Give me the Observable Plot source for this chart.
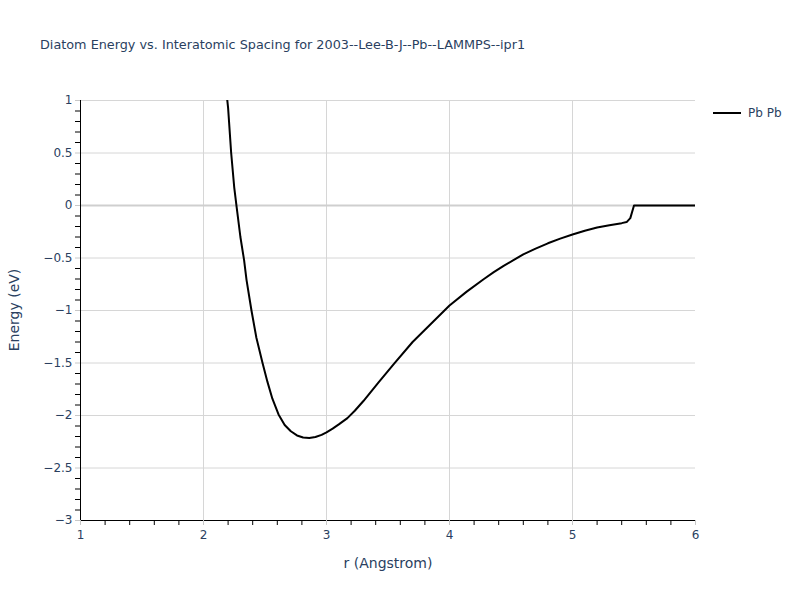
<!DOCTYPE html>
<html>
<head>
<meta charset="utf-8">
<script src="https://cdn.jsdelivr.net/npm/d3@7"></script>
<script src="https://cdn.jsdelivr.net/npm/@observablehq/plot@0.6"></script>
<style>
  html, body { margin: 0; padding: 0; background: #fff; }
  #wrap { position: relative; width: 800px; height: 600px; font-family: "DejaVu Sans", Verdana, sans-serif; }
  #title { position: absolute; left: 40px; top: 37px; font-size: 12.8px; color: #2a3f5f; white-space: nowrap; }
  #legend { position: absolute; left: 713px; top: 106px; font-size: 12px; color: #2a3f5f; display: flex; align-items: center; }
  #legend .sw { width: 28px; height: 2px; background: #000; margin-right: 7px; }
  #ylab { position: absolute; left: 14px; top: 310px; transform: translate(-50%, -50%) rotate(-90deg); font-size: 14px; color: #2a3f5f; white-space: nowrap; }
  #xlab { position: absolute; left: 388px; top: 563px; transform: translate(-50%, -50%); font-size: 14px; color: #2a3f5f; white-space: nowrap; }
</style>
</head>
<body>
<div id="wrap">
  <div id="chart"></div>
  <div id="title">Diatom Energy vs. Interatomic Spacing for 2003--Lee-B-J--Pb--LAMMPS--ipr1</div>
  <div id="legend"><div class="sw"></div><span>Pb Pb</span></div>
  <div id="ylab">Energy (eV)</div>
  <div id="xlab">r (Angstrom)</div>
</div>
<script>
const seriesName = "Pb Pb";
const r = [2.18, 2.20, 2.225, 2.25, 2.27, 2.30, 2.33, 2.35, 2.39, 2.43, 2.48, 2.52, 2.56, 2.61, 2.66, 2.71, 2.76, 2.81, 2.86, 2.91, 2.96, 3.00, 3.05, 3.10, 3.17, 3.23, 3.30, 3.42, 3.55, 3.70, 3.85, 4.00, 4.14, 4.28, 4.36, 4.44, 4.52, 4.60, 4.70, 4.80, 4.90, 5.00, 5.10, 5.20, 5.30, 5.40, 5.44, 5.47, 5.50, 6.00];
const energy = [1.15, 0.93, 0.50, 0.17, -0.02, -0.30, -0.52, -0.71, -1.00, -1.26, -1.50, -1.68, -1.84, -1.99, -2.09, -2.15, -2.19, -2.21, -2.215, -2.205, -2.185, -2.16, -2.125, -2.085, -2.025, -1.955, -1.862, -1.69, -1.505, -1.30, -1.127, -0.952, -0.82, -0.70, -0.635, -0.575, -0.52, -0.465, -0.41, -0.36, -0.315, -0.276, -0.24, -0.21, -0.188, -0.168, -0.158, -0.12, 0, 0];
const xMajor = [1, 2, 3, 4, 5, 6];
const yMajor = [-3, -2.5, -2, -1.5, -1, -0.5, 0, 0.5, 1];

const data = r.map((v, i) => ({r: v, e: energy[i]}));
const xMinor = d3.range(1, 6.001, 0.2).map(v => +v.toFixed(2)).filter(v => !xMajor.includes(v));
const yMinor = d3.range(-3, 1.001, 0.1).map(v => +v.toFixed(2)).filter(v => !yMajor.some(m => Math.abs(m - v) < 1e-9));
const fmt = d3.format("~g");

const chart = Plot.plot({
  width: 800,
  height: 600,
  marginLeft: 80,
  marginRight: 105,
  marginTop: 100,
  marginBottom: 80,
  style: {fontFamily: '"DejaVu Sans", Verdana, sans-serif', fontSize: "12px", color: "#2a3f5f", background: "#fff"},
  x: {domain: [1, 6]},
  y: {domain: [-3, 1]},
  marks: [
    Plot.gridX([2, 3, 4, 5], {stroke: "#d6d6d6", strokeOpacity: 1}),
    Plot.gridY(yMajor.filter(v => v !== 0 && v !== -3), {stroke: "#d6d6d6", strokeOpacity: 1}),
    Plot.ruleY([0], {stroke: "#cfcfcf", strokeWidth: 2}),
    Plot.line(data, {x: "r", y: "e", stroke: "#000", strokeWidth: 2, clip: true}),
    Plot.ruleY([-3], {stroke: "#000", strokeWidth: 1}),
    Plot.ruleX([1], {stroke: "#000", strokeWidth: 1}),
    Plot.axisX(xMajor, {tickSize: 5, tickPadding: 5, stroke: "#c8c8c8", fill: "#2a3f5f", label: null, fontSize: 12, tickFormat: fmt}),
    Plot.axisX(xMinor, {tickSize: 5, text: null, stroke: "#000", label: null}),
    Plot.axisY(yMajor, {tickSize: 5, tickPadding: 3, stroke: "#c8c8c8", fill: "#2a3f5f", label: null, fontSize: 12, tickFormat: fmt}),
    Plot.axisY(yMinor, {tickSize: 5, text: null, stroke: "#000", label: null})
  ]
});
document.getElementById("chart").appendChild(chart);
</script>
</body>
</html>
